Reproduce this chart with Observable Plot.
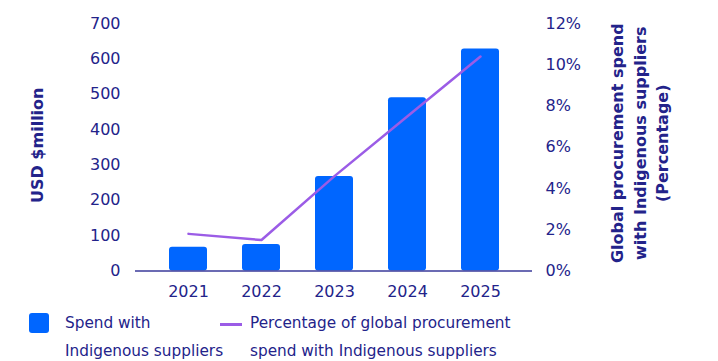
<!DOCTYPE html>
<html>
<head>
<meta charset="utf-8">
<script src="https://cdn.jsdelivr.net/npm/d3@7"></script>
<script src="https://cdn.jsdelivr.net/npm/@observablehq/plot@0.6"></script>
<style>
  body { margin: 0; background: #fff; font-family: "DejaVu Sans", sans-serif; }
  #chart { width: 718px; }
  .legend { position: relative; height: 56px; color: #23238a; font-size: 15.3px; line-height: 28px; }
  .legend .sw { position: absolute; left: 29px; top: 8px; width: 20px; height: 20px; background: #0066ff; border-radius: 3px; }
  .legend .t1 { position: absolute; left: 65px; top: 4px; }
  .legend .ln { position: absolute; left: 220px; top: 18px; width: 22px; height: 2.5px; background: #9b5ce6; }
  .legend .t2 { position: absolute; left: 250px; top: 4px; }
</style>
</head>
<body>
<div id="chart"></div>
<div class="legend">
  <div class="sw"></div>
  <div class="t1">Spend with<br>Indigenous suppliers</div>
  <div class="ln"></div>
  <div class="t2">Percentage of global procurement<br>spend with Indigenous suppliers</div>
</div>
<script>
const years = ["2021", "2022", "2023", "2024", "2025"];
const spend = [67, 75, 267, 490, 628];           // USD $million
const pct = [1.8, 1.5, 4.6, 7.5, 10.4];           // % of global procurement
const leftTicks = [0, 100, 200, 300, 400, 500, 600, 700];
const pctTicks = [0, 2, 4, 6, 8, 10, 12];

const yMax = 700, pMax = 12;
const toY = p => p * yMax / pMax;

const navy = "#23238a";
const barData = years.map((y, i) => ({year: y, spend: spend[i]}));
const lineData = years.map((y, i) => ({year: y, pct: pct[i]}));

const chart = Plot.plot({
  width: 718,
  height: 305,
  marginLeft: 135,
  marginRight: 186,
  marginTop: 23,
  marginBottom: 34.5,
  style: {fontFamily: "DejaVu Sans, sans-serif", fontSize: "16px", color: navy, background: "#fff"},
  x: {domain: years, paddingInner: 0.486, paddingOuter: 0.46, label: null},
  y: {domain: [0, yMax], label: null},
  marks: [
    Plot.barY(barData, {x: "year", y: "spend", fill: "#0066ff", rx: 3}),
    Plot.ruleY([0], {stroke: "#3a3a9a", strokeWidth: 1.5}),
    Plot.lineY(lineData, {x: "year", y: d => toY(d.pct), stroke: "#9b5ce6", strokeWidth: 2.5}),
    Plot.axisX({tickSize: 0, tickPadding: 15, fontSize: 16, label: null}),
    Plot.axisY(leftTicks, {anchor: "left", tickSize: 0, tickPadding: 15, fontSize: 16, label: null}),
    Plot.axisY(pctTicks.map(toY), {anchor: "right", tickSize: 0, tickPadding: 13, fontSize: 16, label: null,
      tickFormat: v => Math.round(v * pMax / yMax) + "%"}),
    Plot.text(["USD $million"], {frameAnchor: "left", dx: -98, dy: -2, rotate: -90, textAnchor: "middle", lineAnchor: "middle", fontWeight: "bold", fontSize: 16, fill: navy}),
    Plot.text(["Global procurement spend\nwith Indigenous suppliers\n(Percentage)"],
      {frameAnchor: "right", dx: 106, dy: -4, rotate: -90, textAnchor: "middle", lineAnchor: "middle", fontWeight: "bold", fontSize: 16, lineHeight: 1.4, fill: navy})
  ]
});
document.getElementById("chart").append(chart);
</script>
</body>
</html>
